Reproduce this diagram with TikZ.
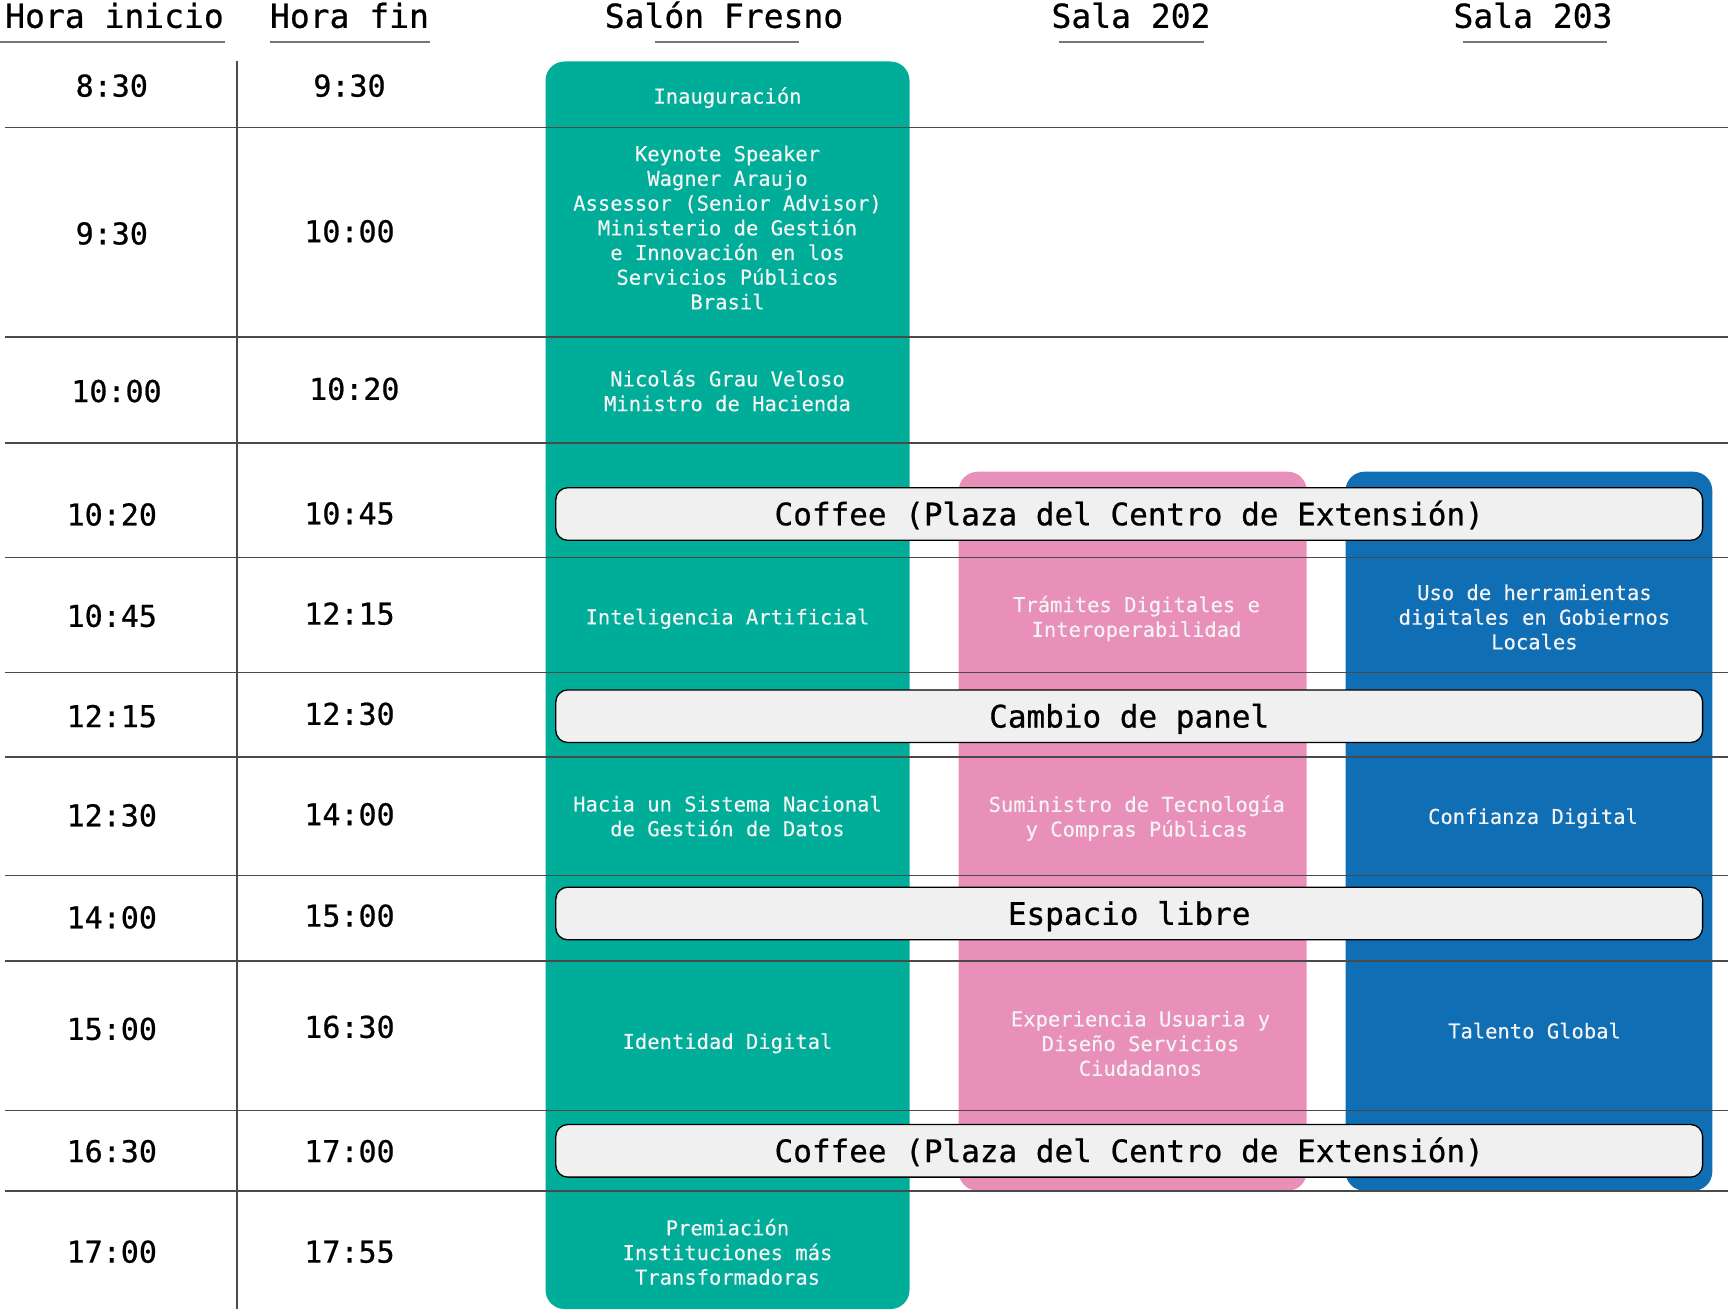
\documentclass[tikz,border=0pt]{standalone}
\usepackage{fontspec}
\setmainfont{DejaVu Sans Mono}
\newfontfamily\medmono[FakeBold=0.7]{DejaVu Sans Mono}
\newfontfamily\sesmono[FakeBold=0.25]{DejaVu Sans Mono}
\definecolor{cgreen}{HTML}{00AD99}
\definecolor{cpink}{HTML}{E88FBA}
\definecolor{cblue}{HTML}{106EB5}
\definecolor{cbar}{HTML}{F0F0F0}
\definecolor{crule}{HTML}{4A4A4A}
\definecolor{culine}{HTML}{777777}
\definecolor{ctxt}{HTML}{F4F4F4}
\begin{document}
\begin{tikzpicture}[x=1pt,y=-1pt,
  hdr/.style={font=\medmono\fontsize{33}{40}\selectfont, inner sep=0pt, anchor=base},
  tim/.style={font=\medmono\fontsize{30}{36}\selectfont, inner sep=0pt, anchor=base},
  ses/.style={font=\sesmono\fontsize{20.5}{24.7}\selectfont, text=ctxt, align=center, inner sep=0pt,
              execute at begin node=\strut, execute at end node=\strut},
  colbox/.style={rounded corners=19pt, inner sep=0pt, draw=none},
  bar/.style={draw=black, line width=1.3pt, fill=cbar, rounded corners=12pt,
              minimum width=1146.8pt, minimum height=52.6pt, inner sep=0pt,
              font=\medmono\fontsize{31}{37}\selectfont, text height=22.6pt, text depth=0pt},
  rowrule/.style={draw=crule, line width=1.6pt},
  uline/.style={draw=culine, line width=2pt}
]
\useasboundingbox (0,0) rectangle (1728,1311);

% columns
\node[colbox, fill=cgreen, minimum width=364pt, minimum height=1247.5pt] (cg) at (727.5,685.25) {};
\node[colbox, fill=cpink, minimum width=348pt, minimum height=719pt] (cp) at (1132.7,831.2) {};
\node[colbox, fill=cblue, minimum width=366.8pt, minimum height=719pt] (cb) at (1528.9,831.2) {};

% row rules
\foreach \yy in {127.5,337.2,442.7,557.3,672.3,756.7,875.5,960.7,1110.3,1191}
  \draw[rowrule] (4.6,\yy) -- (1728,\yy);
\draw[rowrule] (236.8,61) -- (236.8,1309);

% header underlines
\draw[uline] (0,41.7) -- (224.5,41.7);
\draw[uline] (269.5,41.7) -- (429.7,41.7);
\draw[uline] (655,41.7) -- (799,41.7);
\draw[uline] (1059,41.7) -- (1203.8,41.7);
\draw[uline] (1462.8,41.7) -- (1606.9,41.7);

% headers
\node[hdr] (h1) at (114.5,27.8) {Hora inicio};
\node[hdr] (h2) at (349.5,27.8) {Hora fin};
\node[hdr] (h3) at (724,27.8) {Salón Fresno};
\node[hdr] (h4) at (1131,27.8) {Sala 202};
\node[hdr] (h5) at (1533,27.8) {Sala 203};

% start times
\node[tim] (s1) at (111.8,96.6) {8:30};
\node[tim] (s2) at (111.8,244.4) {9:30};
\node[tim] (s3) at (116.5,402.0) {10:00};
\node[tim] (s4) at (111.8,525.4) {10:20};
\node[tim] (s5) at (111.8,626.8) {10:45};
\node[tim] (s6) at (111.8,727.1) {12:15};
\node[tim] (s7) at (111.8,826.3) {12:30};
\node[tim] (s8) at (111.8,928.3) {14:00};
\node[tim] (s9) at (111.8,1039.8) {15:00};
\node[tim] (s10) at (111.8,1162.1) {16:30};
\node[tim] (s11) at (111.8,1262.6) {17:00};

% end times
\node[tim] (e1) at (349.5,96.6) {9:30};
\node[tim] (e2) at (349.5,242.2) {10:00};
\node[tim] (e3) at (354.3,399.8) {10:20};
\node[tim] (e4) at (349.5,524.3) {10:45};
\node[tim] (e5) at (349.5,624.6) {12:15};
\node[tim] (e6) at (349.5,724.8) {12:30};
\node[tim] (e7) at (349.5,825.2) {14:00};
\node[tim] (e8) at (349.5,926.6) {15:00};
\node[tim] (e9) at (349.5,1037.8) {16:30};
\node[tim] (e10) at (349.5,1162.1) {17:00};
\node[tim] (e11) at (349.5,1262.6) {17:55};

% bars
\node[bar] (b1) at (1129.2,514) {Coffee (Plaza del Centro de Extensión)};
\node[bar] (b2) at (1129.2,716.2) {Cambio de panel};
\node[bar] (b3) at (1129.2,913.5) {Espacio libre};
\node[bar] (b4) at (1129.2,1150.8) {Coffee (Plaza del Centro de Extensión)};

% Salón Fresno sessions
\node[ses] (g1) at (727.5,98.7) {Inauguración};
\node[ses] (g2) at (727.5,231.2) {Keynote Speaker\\Wagner Araujo\\Assessor (Senior Advisor)\\Ministerio de Gestión\\e Innovación en los\\Servicios Públicos\\Brasil};
\node[ses] (g3) at (727.5,394.2) {Nicolás Grau Veloso\\Ministro de Hacienda};
\node[ses] (g4) at (727.5,619.5) {Inteligencia Artificial};
\node[ses] (g5) at (727.5,819.7) {Hacia un Sistema Nacional\\de Gestión de Datos};
\node[ses] (g6) at (727.5,1044) {Identidad Digital};
\node[ses] (g7) at (727.5,1255.5) {Premiación\\Instituciones más\\Transformadoras};

% Sala 202 sessions
\node[ses] (p1) at (1136.5,620) {Trámites Digitales e\\Interoperabilidad};
\node[ses] (p2) at (1136.7,819.7) {Suministro de Tecnología\\y Compras Públicas};
\node[ses] (p3) at (1140.5,1047) {Experiencia Usuaria y\\Diseño Servicios\\Ciudadanos};

% Sala 203 sessions
\node[ses] (u1) at (1534.4,620.6) {Uso de herramientas\\digitales en Gobiernos\\Locales};
\node[ses] (u2) at (1533,819) {Confianza Digital};
\node[ses] (u3) at (1534.5,1033.5) {Talento Global};
\end{tikzpicture}
\end{document}
